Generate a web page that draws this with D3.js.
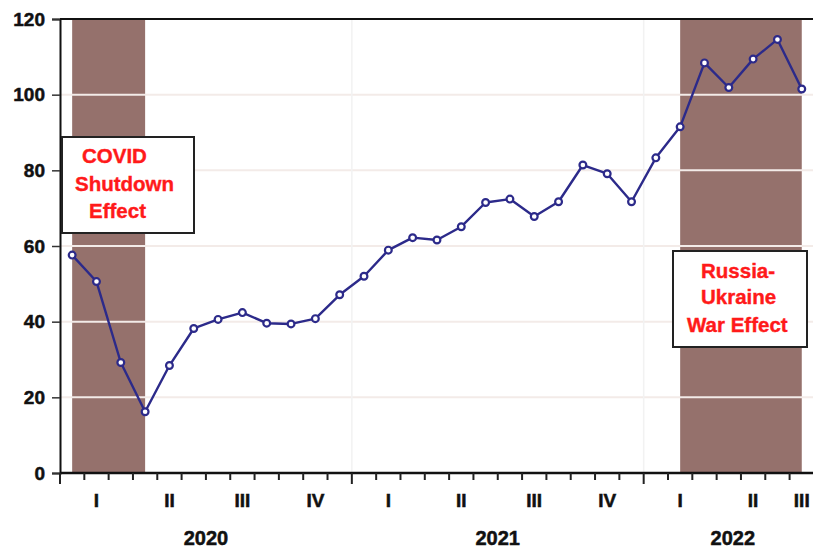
<!DOCTYPE html>
<html>
<head>
<meta charset="utf-8">
<script src="https://cdn.jsdelivr.net/npm/d3@7"></script>
<style>
  body { margin: 0; background: #fff; }
  text { font-family: "Liberation Sans", Arial, sans-serif; font-weight: bold; }
</style>
</head>
<body>
<div id="chart"></div>
<script>
// monthly observations, Jan 2020 .. Jul 2022
const months = [
  "2020M01","2020M02","2020M03","2020M04","2020M05","2020M06","2020M07","2020M08","2020M09","2020M10","2020M11","2020M12",
  "2021M01","2021M02","2021M03","2021M04","2021M05","2021M06","2021M07","2021M08","2021M09","2021M10","2021M11","2021M12",
  "2022M01","2022M02","2022M03","2022M04","2022M05","2022M06","2022M07"
];
const values = [
  57.6, 50.6, 29.2, 16.2, 28.4, 38.2, 40.6, 42.4, 39.6, 39.4, 40.8, 47.1,
  52.0, 58.9, 62.2, 61.6, 65.1, 71.5, 72.4, 67.8, 71.7, 81.4, 79.1, 71.7,
  83.3, 91.5, 108.4, 101.9, 109.4, 114.6, 101.5
];
const quarterLabels = ["I","II","III","IV","I","II","III","IV","I","II","III"];
const yearLabels = ["2020","2021","2022"];
const yTicks = [0, 20, 40, 60, 80, 100, 120];
// shaded periods (from month, to month)
const shadeFrom = ["2020M01", "2022M02"];
const shadeTo   = ["2020M04", "2022M07"];

const W = 813, H = 548;
const margin = {top: 19, left: 60, bottom: 75};
const monthW = 24.32;

const svg = d3.select("#chart").append("svg")
  .attr("width", W).attr("height", H);

const x = d3.scaleBand()
  .domain(months)
  .range([margin.left, margin.left + months.length * monthW])
  .paddingInner(0).paddingOuter(0);
const bw = x.bandwidth();
const cx = m => x(m) + bw / 2;

const y = d3.scaleLinear()
  .domain([0, 120])
  .range([H - margin.bottom, margin.top]);

// shading
shadeFrom.forEach((f, i) => {
  svg.append("rect")
    .attr("x", cx(f))
    .attr("y", y(120))
    .attr("width", cx(shadeTo[i]) - cx(f))
    .attr("height", y(0) - y(120))
    .attr("fill", "#95716c");
});

// grid lines
svg.append("g").selectAll("line")
  .data(yTicks.filter(d => d > 0 && d < 120))
  .join("line")
    .attr("x1", margin.left).attr("x2", W)
    .attr("y1", d => y(d)).attr("y2", d => y(d))
    .attr("stroke", "#f3ebe8").attr("stroke-width", 2);

// faint vertical lines at year boundaries
svg.append("g").selectAll("line")
  .data(months.filter((m, i) => i > 0 && m.endsWith("M01")))
  .join("line")
    .attr("x1", d => x(d)).attr("x2", d => x(d))
    .attr("y1", y(120)).attr("y2", y(0))
    .attr("stroke", "#f2f2f2").attr("stroke-width", 1.5);

// frame: top border, left axis, bottom axis
svg.append("line").attr("x1", margin.left).attr("x2", W)
  .attr("y1", y(120)).attr("y2", y(120))
  .attr("stroke", "#111").attr("stroke-width", 2);

const yAxis = svg.append("g")
  .attr("transform", `translate(${margin.left},0)`)
  .call(d3.axisLeft(y).tickValues(yTicks).tickSize(8).tickPadding(7));
yAxis.select(".domain").attr("stroke", "#111").attr("stroke-width", 2);
yAxis.selectAll(".tick line").attr("stroke", "#333").attr("stroke-width", 1.5);
yAxis.selectAll(".tick text")
  .attr("font-size", 19).attr("fill", "#111")
  .attr("stroke", "#111").attr("stroke-width", 0.5)
  .attr("font-family", "'Liberation Sans', Arial, sans-serif")
  .attr("font-weight", "bold");

// x axis line and month ticks
const xg = svg.append("g");
xg.append("line")
  .attr("x1", margin.left).attr("x2", W)
  .attr("y1", y(0)).attr("y2", y(0))
  .attr("stroke", "#111").attr("stroke-width", 2.5);
const bounds = months.map(m => ({pos: x(m), year: m.endsWith("M01")}));
xg.selectAll("line.tk")
  .data(bounds)
  .join("line")
    .attr("class", "tk")
    .attr("x1", d => d.pos).attr("x2", d => d.pos)
    .attr("y1", y(0)).attr("y2", d => y(0) + (d.year ? 11 : 7))
    .attr("stroke", "#222").attr("stroke-width", 2);

// quarter labels
const quarters = quarterLabels.map((q, i) => {
  const ms = months.slice(i * 3, i * 3 + 3);
  return {q, pos: (x(ms[0]) + x(ms[ms.length - 1]) + bw) / 2};
});
xg.selectAll("text.q")
  .data(quarters)
  .join("text")
    .attr("class", "q")
    .attr("x", d => d.pos)
    .attr("y", y(0) + 34)
    .attr("text-anchor", "middle")
    .attr("font-size", 19)
    .attr("fill", "#111")
    .attr("stroke", "#111").attr("stroke-width", 0.5)
    .text(d => d.q);

// year labels
const years = yearLabels.map(yr => {
  const ms = months.filter(m => m.startsWith(yr));
  return {yr, pos: (x(ms[0]) + x(ms[ms.length - 1]) + bw) / 2};
});
xg.selectAll("text.yr")
  .data(years)
  .join("text")
    .attr("class", "yr")
    .attr("x", (d, i) => i === years.length - 1 ? d.pos + 4 : d.pos)
    .attr("y", y(0) + 72)
    .attr("text-anchor", "middle")
    .attr("font-size", 20)
    .attr("fill", "#111")
    .attr("stroke", "#111").attr("stroke-width", 0.5)
    .text(d => d.yr);

// data line
const navy = "#2c2a8a";
svg.append("path")
  .datum(values)
  .attr("fill", "none")
  .attr("stroke", navy)
  .attr("stroke-width", 2.4)
  .attr("stroke-linejoin", "round")
  .attr("d", d3.line().x((d, i) => cx(months[i])).y(d => y(d)));

svg.append("g").selectAll("circle")
  .data(values)
  .join("circle")
    .attr("cx", (d, i) => cx(months[i]))
    .attr("cy", d => y(d))
    .attr("r", 3.4)
    .attr("fill", "#fff")
    .attr("stroke", navy)
    .attr("stroke-width", 2.2);

// annotation boxes
function note(bx, by, bwid, bh, lines) {
  const g = svg.append("g");
  g.append("rect")
    .attr("x", bx).attr("y", by).attr("width", bwid).attr("height", bh)
    .attr("fill", "#fff").attr("stroke", "#222").attr("stroke-width", 2);
  lines.forEach(l => {
    g.append("text")
      .attr("x", l[0]).attr("y", l[1])
      .attr("font-size", 20.5)
      .attr("fill", "#ff1a1a")
      .attr("stroke", "#ff1a1a").attr("stroke-width", 0.4)
      .text(l[2]);
  });
}
note(62, 137, 132, 96, [[82, 163, "COVID"], [75, 191, "Shutdown"], [89, 218, "Effect"]]);
note(673, 251, 134, 96, [[701, 278, "Russia-"], [701, 304, "Ukraine"], [687, 332, "War Effect"]]);
</script>
</body>
</html>
